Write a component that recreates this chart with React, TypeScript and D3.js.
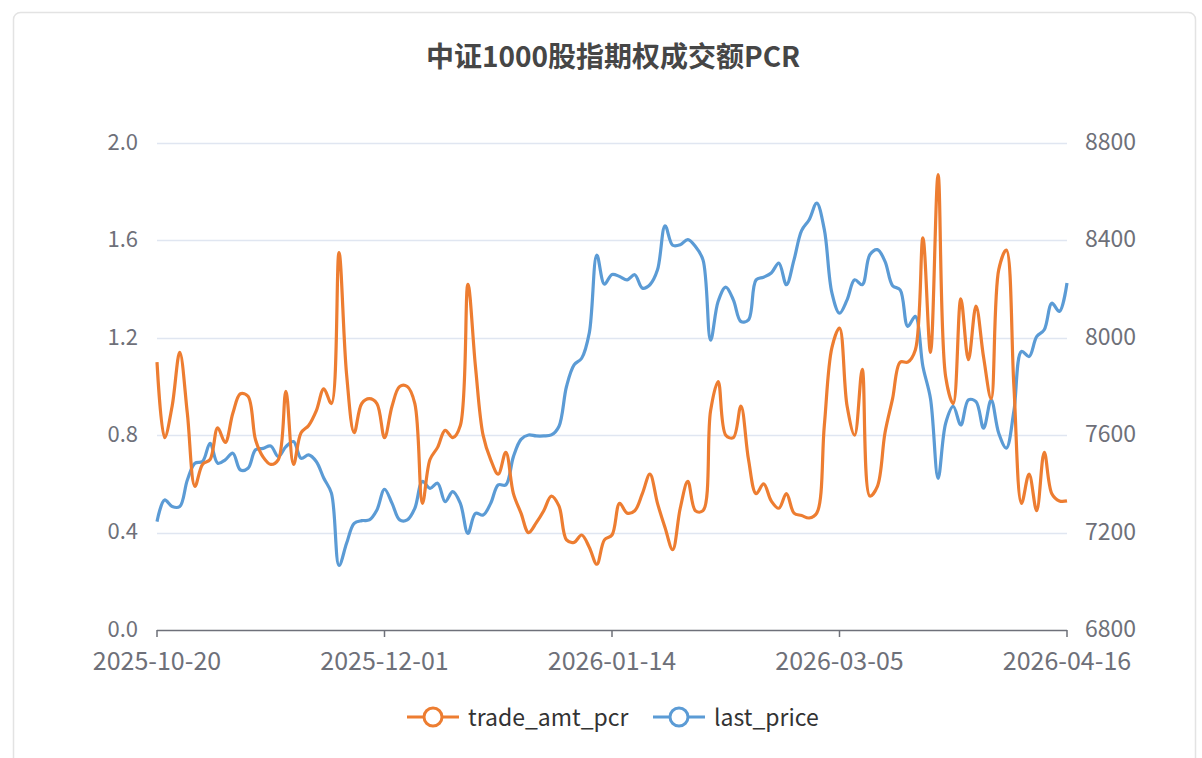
import React, { useEffect, useRef } from 'react';
import * as d3 from 'd3';

// trading days on the x axis
const dates: string[] = [
  '2025-10-20', '2025-10-21', '2025-10-22', '2025-10-23', '2025-10-24', '2025-10-27', '2025-10-28', '2025-10-29', '2025-10-30', '2025-10-31',
  '2025-11-03', '2025-11-04', '2025-11-05', '2025-11-06', '2025-11-07', '2025-11-10', '2025-11-11', '2025-11-12', '2025-11-13', '2025-11-14',
  '2025-11-17', '2025-11-18', '2025-11-19', '2025-11-20', '2025-11-21', '2025-11-24', '2025-11-25', '2025-11-26', '2025-11-27', '2025-11-28',
  '2025-12-01', '2025-12-02', '2025-12-03', '2025-12-04', '2025-12-05', '2025-12-08', '2025-12-09', '2025-12-10', '2025-12-11', '2025-12-12',
  '2025-12-15', '2025-12-16', '2025-12-17', '2025-12-18', '2025-12-19', '2025-12-22', '2025-12-23', '2025-12-24', '2025-12-25', '2025-12-26',
  '2025-12-29', '2025-12-30', '2025-12-31', '2026-01-05', '2026-01-06', '2026-01-07', '2026-01-08', '2026-01-09', '2026-01-12', '2026-01-13',
  '2026-01-14', '2026-01-15', '2026-01-16', '2026-01-19', '2026-01-20', '2026-01-21', '2026-01-22', '2026-01-23', '2026-01-26', '2026-01-27',
  '2026-01-28', '2026-01-29', '2026-01-30', '2026-02-02', '2026-02-03', '2026-02-04', '2026-02-05', '2026-02-06', '2026-02-09', '2026-02-10',
  '2026-02-11', '2026-02-12', '2026-02-13', '2026-02-24', '2026-02-25', '2026-02-26', '2026-02-27', '2026-03-02', '2026-03-03', '2026-03-04',
  '2026-03-05', '2026-03-06', '2026-03-09', '2026-03-10', '2026-03-11', '2026-03-12', '2026-03-13', '2026-03-16', '2026-03-17', '2026-03-18',
  '2026-03-19', '2026-03-20', '2026-03-23', '2026-03-24', '2026-03-25', '2026-03-26', '2026-03-27', '2026-03-30', '2026-03-31', '2026-04-01',
  '2026-04-02', '2026-04-03', '2026-04-06', '2026-04-07', '2026-04-08', '2026-04-09', '2026-04-10', '2026-04-13', '2026-04-14', '2026-04-15',
  '2026-04-16',
];

const tradeAmtPcr: number[] = [
  1.10, 0.79, 0.92, 1.14, 0.89, 0.59, 0.68, 0.70, 0.83, 0.77,
  0.89, 0.97, 0.96, 0.78, 0.71, 0.68, 0.70, 0.98, 0.68, 0.81,
  0.84, 0.90, 0.99, 0.93, 1.55, 1.05, 0.81, 0.93, 0.95, 0.93,
  0.79, 0.92, 1.00, 1.00, 0.93, 0.52, 0.70, 0.75, 0.82, 0.79,
  0.84, 1.42, 1.08, 0.80, 0.70, 0.64, 0.73, 0.56, 0.48, 0.40,
  0.44, 0.49, 0.55, 0.51, 0.37, 0.36, 0.39, 0.34, 0.27, 0.37,
  0.39, 0.52, 0.48, 0.49, 0.56, 0.64, 0.52, 0.42, 0.33, 0.50,
  0.61, 0.49, 0.49, 0.90, 1.02, 0.80, 0.79, 0.92, 0.70, 0.56,
  0.60, 0.53, 0.50, 0.56, 0.48, 0.47, 0.46, 0.48, 0.84, 1.16,
  1.24, 0.92, 0.80, 1.07, 0.55, 0.59, 0.81, 0.95, 1.10, 1.10,
  1.15, 1.61, 1.14, 1.87, 1.04, 0.93, 1.36, 1.11, 1.33, 1.12,
  0.95, 1.48, 1.56, 1.00, 0.52, 0.64, 0.49, 0.73, 0.56, 0.53,
  0.53,
];

const lastPrice: number[] = [
  7245, 7334, 7307, 7307, 7416, 7485, 7492, 7567, 7485, 7499,
  7526, 7457, 7464, 7540, 7546, 7556, 7512, 7553, 7574, 7505,
  7519, 7492, 7423, 7362, 7065, 7156, 7238, 7249, 7252, 7293,
  7378, 7320, 7252, 7252, 7300, 7410, 7382, 7403, 7327, 7368,
  7320, 7197, 7279, 7272, 7320, 7396, 7396, 7512, 7583, 7601,
  7597, 7597, 7601, 7636, 7800, 7889, 7916, 8019, 8340, 8220,
  8260, 8252, 8238, 8259, 8204, 8218, 8279, 8460, 8380, 8382,
  8403, 8375, 8320, 7990, 8150, 8208, 8156, 8067, 8074, 8238,
  8249, 8266, 8307, 8218, 8320, 8440, 8485, 8553, 8444, 8184,
  8101, 8156, 8238, 8218, 8341, 8362, 8314, 8214, 8197, 8047,
  8088, 7882, 7750, 7423, 7649, 7718, 7642, 7745, 7738, 7629,
  7745, 7608, 7547, 7700, 7944, 7923, 8005, 8033, 8142, 8108,
  8225,
];

const leftTicks = [0, 0.4, 0.8, 1.2, 1.6, 2.0];
const rightTicks = [6800, 7200, 7600, 8000, 8400, 8800];
const xLabels = ['2025-10-20', '2025-12-01', '2026-01-14', '2026-03-05', '2026-04-16'];

const title = '中证1000股指期权成交额PCR';
const seriesNames = ['trade_amt_pcr', 'last_price'];
const colors = ['#ED7D31', '#5B9BD5'];

const App = () => {
  const ref = useRef<SVGSVGElement | null>(null);

  useEffect(() => {
    if (!ref.current) return;
    const svg = d3.select(ref.current);
    svg.selectAll('*').remove();

    const font = '"Noto Sans CJK SC", "Noto Sans", sans-serif';
    const margin = { top: 143, left: 157, right: 1067, bottom: 630 };

    // card
    svg
      .append('rect')
      .attr('x', 13.5)
      .attr('y', 12.5)
      .attr('width', 1182)
      .attr('height', 780)
      .attr('rx', 7)
      .attr('fill', '#fff')
      .attr('stroke', '#e3e3e3')
      .attr('stroke-width', 1.5);

    const x = d3.scalePoint<string>().domain(dates).range([margin.left, margin.right]);
    const yL = d3.scaleLinear().domain([0, 2]).range([margin.bottom, margin.top]);
    const yR = d3.scaleLinear().domain([6800, 8800]).range([margin.bottom, margin.top]);

    // title
    svg
      .append('text')
      .attr('x', 613)
      .attr('y', 67)
      .attr('text-anchor', 'middle')
      .attr('font-family', font)
      .attr('font-weight', 'bold')
      .attr('font-size', 28)
      .attr('fill', '#464646')
      .text(title);

    // grid lines
    svg
      .append('g')
      .selectAll('line')
      .data(leftTicks.slice(1))
      .join('line')
      .attr('x1', margin.left)
      .attr('x2', margin.right)
      .attr('y1', (d) => Math.round(yL(d)) + 0.5)
      .attr('y2', (d) => Math.round(yL(d)) + 0.5)
      .attr('stroke', '#E0E6F1')
      .attr('stroke-width', 1.5);

    // left axis labels
    svg
      .append('g')
      .selectAll('text')
      .data(leftTicks)
      .join('text')
      .attr('x', 138)
      .attr('y', (d) => yL(d) - 1)
      .attr('dy', '0.35em')
      .attr('text-anchor', 'end')
      .attr('font-family', font)
      .attr('font-size', 22)
      .attr('fill', '#6E7079')
      .text((d) => d.toFixed(1));

    // right axis labels
    svg
      .append('g')
      .selectAll('text')
      .data(rightTicks)
      .join('text')
      .attr('x', 1085)
      .attr('y', (d) => yR(d) - 1)
      .attr('dy', '0.35em')
      .attr('text-anchor', 'start')
      .attr('font-family', font)
      .attr('font-size', 23)
      .attr('fill', '#6E7079')
      .text((d) => String(d));

    // x axis
    const xAxis = svg.append('g');
    xAxis
      .append('line')
      .attr('x1', margin.left)
      .attr('x2', margin.right)
      .attr('y1', margin.bottom + 0.5)
      .attr('y2', margin.bottom + 0.5)
      .attr('stroke', '#6E7079')
      .attr('stroke-width', 1.5);
    xAxis
      .selectAll('line.tick')
      .data(xLabels)
      .join('line')
      .attr('class', 'tick')
      .attr('x1', (d) => x(d)!)
      .attr('x2', (d) => x(d)!)
      .attr('y1', margin.bottom)
      .attr('y2', margin.bottom + 7)
      .attr('stroke', '#6E7079')
      .attr('stroke-width', 1.5);
    xAxis
      .selectAll('text')
      .data(xLabels)
      .join('text')
      .attr('x', (d) => x(d)!)
      .attr('y', 670)
      .attr('text-anchor', 'middle')
      .attr('font-family', font)
      .attr('font-size', 25)
      .attr('fill', '#6E7079')
      .text((d) => d);

    // lines
    const pcrLine = d3
      .line<number>()
      .x((_, i) => x(dates[i])!)
      .y((d) => yL(d))
      .curve(d3.curveCatmullRom.alpha(0.5));
    const priceLine = d3
      .line<number>()
      .x((_, i) => x(dates[i])!)
      .y((d) => yR(d))
      .curve(d3.curveCatmullRom.alpha(0.5));

    svg
      .append('path')
      .datum(lastPrice)
      .attr('fill', 'none')
      .attr('stroke', colors[1])
      .attr('stroke-width', 3.2)
      .attr('stroke-linejoin', 'round')
      .attr('d', priceLine);

    svg
      .append('path')
      .datum(tradeAmtPcr)
      .attr('fill', 'none')
      .attr('stroke', colors[0])
      .attr('stroke-width', 3.2)
      .attr('stroke-linejoin', 'round')
      .attr('d', pcrLine);

    // legend
    const legendX = [433, 679];
    seriesNames.forEach((name, i) => {
      const g = svg.append('g').attr('transform', `translate(${legendX[i]},717)`);
      g.append('line')
        .attr('x1', -26)
        .attr('x2', 26)
        .attr('stroke', colors[i])
        .attr('stroke-width', 3);
      g.append('circle')
        .attr('r', 9)
        .attr('fill', '#fff')
        .attr('stroke', colors[i])
        .attr('stroke-width', 3);
      g.append('text')
        .attr('x', 35)
        .attr('y', 1)
        .attr('dy', '0.35em')
        .attr('font-family', font)
        .attr('font-size', 23)
        .attr('fill', '#333')
        .text(name);
    });
  }, []);

  return (
    <svg
      ref={ref}
      width={1202}
      height={758}
      style={{ position: 'fixed', left: 0, top: 0, background: '#fff' }}
    />
  );
};

export default App;
